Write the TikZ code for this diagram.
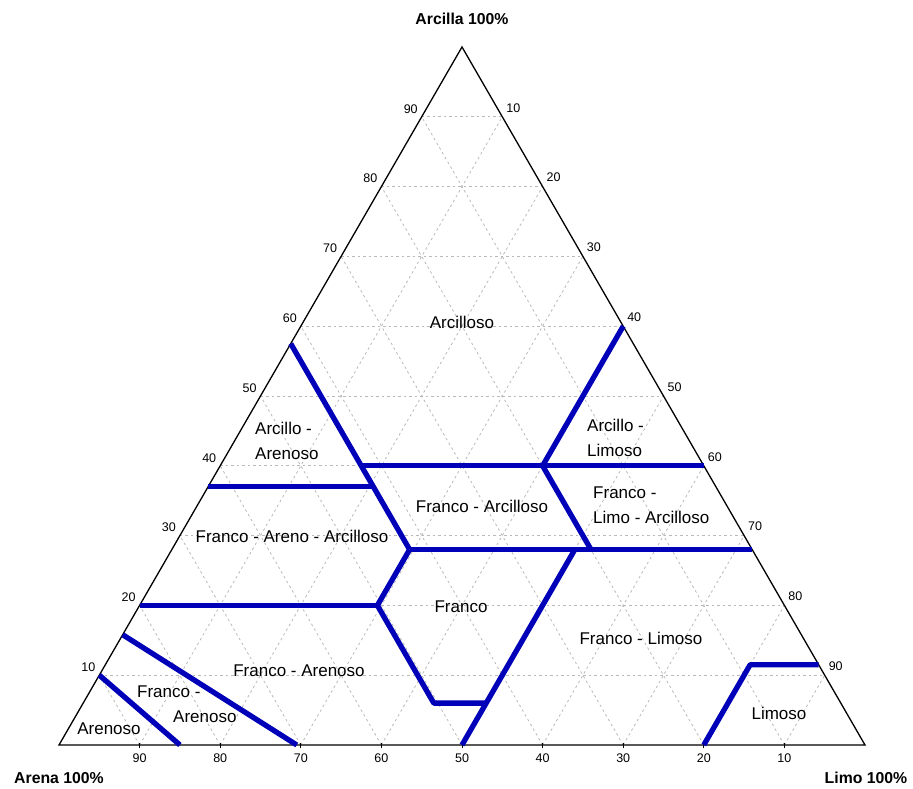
\documentclass[tikz,border=0pt]{standalone}
\usepackage{fontspec}
\setmainfont{Liberation Sans}
\tikzset{
  tern/.style={x={(8.06pt,0pt)},y={(4.03pt,6.98pt)},shift={(59pt,44pt)}},
  gridline/.style={gray!55,dash pattern=on 2.5pt off 3pt,line width=0.8pt},
  bound/.style={blue!72!black,line width=5.3pt,line join=round},
  zone/.style={font=\fontsize{17}{25}\selectfont,inner sep=0pt},
  ticklabel/.style={font=\fontsize{12.5}{14}\selectfont,inner sep=0pt},
  corner/.style={font=\bfseries\fontsize{15.8}{18}\selectfont,inner sep=0pt}
}
\begin{document}
\begin{tikzpicture}
  \useasboundingbox (0pt,0pt) rectangle (913pt,789pt);
  \begin{scope}[tern]
    % grid every 10 %
    \foreach \i in {10,20,...,90} {
        \draw[gridline] (0,\i) -- (100-\i,\i);
        \draw[gridline] (\i,0) -- (\i,100-\i);
        \draw[gridline] (\i,0) -- (0,\i);
      }
    \draw[line width=1.3pt] (0,0) coordinate (arena) -- (100,0) coordinate (limo)
      -- (0,100) coordinate (arcilla) -- cycle;
    % axis numbers
    \foreach \i in {10,20,...,90} {
        \draw[line width=0.8pt] (100-\i,0) ++(0pt,2pt) -- ++(0pt,-5pt);
        \node[ticklabel,yshift=-13pt] (b\i) at (100-\i,0) {\i};
        \node[ticklabel,xshift=-11pt,yshift=8pt] (l\i) at (0,\i) {\i};
        \node[ticklabel,xshift=11pt,yshift=9pt] (r\i) at (\i,100-\i) {\i};
      }
    % class boundaries
    \draw[bound] (0,57.5) -- (29.5,28);
    \draw[bound] (0,37) -- (20.5,37);
    \draw[bound] (17.5,40) -- (60,40);
    \draw[bound] (40,60) -- (40,40) -- (52,28);
    \draw[bound] (29.5,28) -- (72,28);
    \draw[bound] (0,20) -- (29.5,20);
    \draw[bound] (29.5,28) -- (29.5,20) -- (43.5,6) -- (50,6);
    \draw[bound] (50,0) -- (50,28);
    \draw[bound] (80,0) -- (80,11.5) -- (88.5,11.5);
    \draw[bound] (0,10) -- (15,0);
    \draw[bound] (0,15.8) -- (29.5,0);
  \end{scope}
  % corners
  \node[corner] (tarcilla) at (462pt,770pt) {Arcilla 100\%};
  \node[corner] (tarena) at (59pt,11pt) {Arena 100\%};
  \node[corner] (tlimo) at (866pt,11pt) {Limo 100\%};
  % texture classes
  \node[zone] (arcilloso) at (462pt,467pt) {Arcilloso};
  \node[zone,anchor=west,align=left] (arcare) at (255pt,348.5pt) {Arcillo -\\Arenoso};
  \node[zone,anchor=west,align=left] (arclim) at (587pt,351.5pt) {Arcillo -\\Limoso};
  \node[zone,anchor=west,align=left] (franlimarc) at (593pt,283.5pt) {Franco -\\Limo - Arcilloso};
  \node[zone] (franarc) at (482pt,282.3pt) {Franco - Arcilloso};
  \node[zone] (franarearc) at (292pt,253pt) {Franco - Areno - Arcilloso};
  \node[zone] (franco) at (461pt,182.3pt) {Franco};
  \node[zone] (franlim) at (641pt,150.5pt) {Franco - Limoso};
  \node[zone] (franare) at (299pt,118.5pt) {Franco - Arenoso};
  \node[zone,anchor=west,align=left] (areFran) at (137pt,84.8pt) {Franco -\\\hspace*{36pt}Arenoso};
  \node[zone] (arenoso) at (109pt,60.7pt) {Arenoso};
  \node[zone] (limoso) at (779pt,76pt) {Limoso};
\end{tikzpicture}
\end{document}
